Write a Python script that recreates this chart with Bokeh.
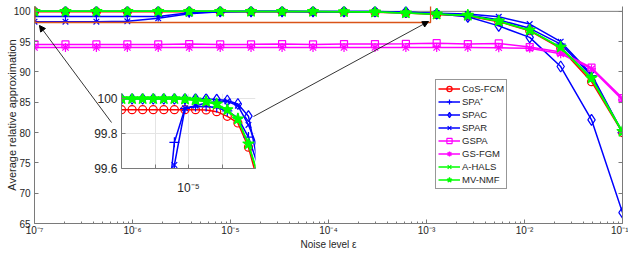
import math
from bokeh.plotting import figure
from bokeh.models import (FixedTicker, CustomJSTickFormatter, Range1d, Legend, LegendItem,
                          Arrow, NormalHead, BoxAnnotation, Span, GridBox, LinearAxis)
from bokeh.embed import file_html
from bokeh.resources import INLINE

# ---------------- data ----------------
noise = [1.00e-7, 2.07e-7, 4.28e-7, 8.86e-7, 1.83e-6, 3.79e-6, 7.85e-6, 1.62e-5, 3.36e-5, 6.95e-5,
         1.44e-4, 2.98e-4, 6.16e-4, 1.27e-3, 2.64e-3, 5.46e-3, 1.13e-2, 2.34e-2, 4.83e-2, 1.00e-1]

cos_fcm = [99.937, 99.937, 99.937, 99.937, 99.937, 99.937, 99.937, 99.937, 99.936, 99.926,
           99.899, 99.861, 99.722, 99.50, 99.25, 98.30, 96.80, 93.90, 88.40, 80.00]
spa_plus = [99.15, 99.15, 99.15, 99.15, 99.15, 99.75, 99.945, 99.955, 99.955, 99.950,
            99.930, 99.890, 99.780, 99.60, 99.40, 98.60, 97.20, 94.60, 89.40, 80.00]
spac = [100.0, 100.0, 100.0, 100.0, 100.0, 100.0, 100.0, 99.999, 99.998, 99.995,
        99.990, 99.970, 99.900, 99.60, 99.10, 97.60, 95.70, 90.90, 82.10, 66.80]
spar = [98.30, 98.30, 98.30, 98.35, 98.85, 99.62, 99.945, 99.960, 99.975, 99.983,
        99.985, 99.960, 99.850, 99.70, 99.55, 99.10, 97.90, 95.00, 89.60, 80.00]
gspa = [94.55, 94.55, 94.55, 94.55, 94.55, 94.60, 94.55, 94.55, 94.60, 94.55,
        94.60, 94.60, 94.65, 94.75, 94.60, 94.70, 94.10, 93.30, 90.70, 85.70]
gs_fgm = [94.05, 94.05, 94.05, 94.05, 94.05, 94.05, 94.05, 94.05, 94.05, 94.05,
          94.05, 94.05, 94.05, 94.05, 94.05, 94.00, 93.90, 93.00, 90.50, 85.40]
a_hals = [99.998, 99.998, 99.998, 99.998, 99.998, 99.998, 99.996, 99.990, 99.982, 99.967,
          99.933, 99.880, 99.735, 99.54, 99.33, 98.35, 96.85, 94.00, 88.80, 80.00]
mv_nmf = [100.0, 100.0, 100.0, 100.0, 100.0, 100.0, 99.998, 99.993, 99.985, 99.970,
          99.937, 99.884, 99.741, 99.55, 99.35, 98.40, 96.90, 94.10, 89.00, 80.20]

names = ["CoS-FCM", "SPA\u207a", "SPAC", "SPAR", "GSPA", "GS-FGM", "A-HALS", "MV-NMF"]
values = [cos_fcm, spa_plus, spac, spar, gspa, gs_fgm, a_hals, mv_nmf]
colors = ["#FF0000", "#0000FF", "#0000FF", "#0000FF", "#FF00FF", "#FF00FF", "#00FF00", "#00FF00"]
markers = ["circle", "cross", "diamond", "x", "square", "asterisk", "x", "star"]
msizes = [8, 10, 11, 8, 7, 9, 8, 12]
mfills = [None, None, None, None, None, None, None, "#00FF00"]

x_major = [1e-7, 1e-6, 1e-5, 1e-4, 1e-3, 1e-2, 1e-1]
x_minor = [m * 10.0 ** k for k in range(-7, -1) for m in range(2, 10)]
y_major = [65, 70, 75, 80, 85, 90, 95, 100]
inset_x_ticks = [1e-6, 1e-5, 1e-4]
inset_y_ticks = [99.6, 99.8, 100.0]

x_title = "Noise level \u03b5"
y_title = "Average relative approximation"

FONT = "Liberation Sans"
AXC = "#7a7a7a"
TXT = "#262626"

SUP_JS = """
const e = Math.round(Math.log10(tick));
const sup = {"-":"\u207b","0":"\u2070","1":"\u00b9","2":"\u00b2","3":"\u00b3","4":"\u2074",
             "5":"\u2075","6":"\u2076","7":"\u2077","8":"\u2078","9":"\u2079"};
return "10" + String(e).split("").map(c => sup[c]).join("");
"""


def style_axis(ax, size="10px"):
    ax.axis_line_color = AXC
    ax.major_tick_line_color = AXC
    ax.minor_tick_line_color = AXC
    ax.major_tick_in = 4
    ax.major_tick_out = 0
    ax.minor_tick_in = 2
    ax.minor_tick_out = 0
    ax.major_label_text_font = FONT
    ax.major_label_text_font_size = size
    ax.major_label_text_color = TXT
    ax.axis_label_text_font = FONT
    ax.axis_label_text_font_style = "normal"
    ax.axis_label_text_color = TXT


def draw(fig):
    items = []
    for name, ys, c, m, s, f in zip(names, values, colors, markers, msizes, mfills):
        l = fig.line(noise, ys, line_color=c, line_width=1.5)
        r = fig.scatter(noise, ys, marker=m, size=s, line_color=c, fill_color=f, line_width=1.2)
        items.append(LegendItem(label=name, renderers=[l, r]))
    return items


# ---------------- main figure ----------------
p = figure(x_axis_type="log", x_range=Range1d(1e-7, 1e-1), y_range=Range1d(65, 100.8),
           frame_width=588, frame_height=217, min_border_left=28, min_border_right=8,
           min_border_top=0, min_border_bottom=31, output_backend="svg", toolbar_location=None)
p.outline_line_color = None
p.xgrid.visible = False
p.ygrid.visible = False
p.background_fill_color = "white"

xa = p.xaxis[0]
xa.ticker = FixedTicker(ticks=x_major, minor_ticks=x_minor)
xa.formatter = CustomJSTickFormatter(code=SUP_JS)
xa.major_label_standoff = 1
style_axis(xa)
xa.axis_label = x_title
xa.axis_label_text_font_size = "10px"
xa.axis_label_standoff = 0

ya = p.yaxis[0]
ya.ticker = FixedTicker(ticks=y_major)
ya.major_label_standoff = 4
style_axis(ya)
ya.axis_label = y_title
ya.axis_label_text_font_size = "11px"
ya.axis_label_standoff = -7

ra = LinearAxis(ticker=FixedTicker(ticks=y_major), formatter=CustomJSTickFormatter(code="return ''"))
style_axis(ra)
ra.major_label_standoff = 0
p.add_layout(ra, "right")

p.add_layout(Span(location=100, dimension="width", line_color=AXC, line_width=1, level="underlay"))

items = draw(p)

legend = Legend(items=items, location=(401, 34))
legend.border_line_color = "#303030"
legend.border_line_width = 0.8
legend.background_fill_color = "white"
legend.background_fill_alpha = 1
legend.padding = 2
legend.spacing = 0
legend.margin = 0
legend.label_height = 13
legend.glyph_height = 13
legend.glyph_width = 22
legend.label_standoff = 2
legend.label_text_font = FONT
legend.label_text_font_size = "9.5px"
legend.label_text_color = TXT
p.add_layout(legend)

# zoom box and arrows
p.add_layout(BoxAnnotation(left=1.01e-7, right=1.1e-3, bottom=98.16, top=102,
                           fill_alpha=0, line_color="#D95319", line_alpha=1, line_width=1.3))
p.add_layout(Arrow(end=NormalHead(size=6, fill_color="black", line_color="black"),
                   x_start=6.11e-7, y_start=81.66, x_end=1.124e-7, y_end=97.67,
                   line_color="black", line_width=0.8))
p.add_layout(Arrow(end=NormalHead(size=6, fill_color="black", line_color="black"),
                   x_start=1.717e-5, y_start=82.65, x_end=1.048e-3, y_end=98.33,
                   line_color="black", line_width=0.8))

# ---------------- inset ----------------
ins = figure(x_axis_type="log", x_range=Range1d(1e-7, 1e-3), y_range=Range1d(99.6, 100.03),
             frame_width=134, frame_height=75, min_border_left=34, min_border_right=6,
             min_border_top=6, min_border_bottom=32, output_backend="svg", toolbar_location=None)
ins.outline_line_color = None
ins.background_fill_color = None
ins.border_fill_color = None
ixa = ins.xaxis[0]
ixa.ticker = FixedTicker(ticks=inset_x_ticks, minor_ticks=[])
ixa.formatter = CustomJSTickFormatter(code="return Math.abs(Math.log10(tick) + 5) < 0.01 ? '10\u207b\u2075' : '';")
style_axis(ixa, "12px")
ixa.major_label_standoff = 12
iya = ins.yaxis[0]
iya.ticker = FixedTicker(ticks=inset_y_ticks)
iya.formatter = CustomJSTickFormatter(code="return String(Number(tick.toFixed(1)));")
style_axis(iya, "12px")
iya.major_label_standoff = 4
ins.xgrid.grid_line_color = "#e4e4e4"
ins.ygrid.grid_line_color = "#e4e4e4"
draw(ins)
ins.margin = (87, 0, 0, 87)
ins.align = "start"

grid = GridBox(children=[(p, 0, 0), (ins, 0, 0)])
open("out.html", "w").write(file_html(grid, INLINE))
